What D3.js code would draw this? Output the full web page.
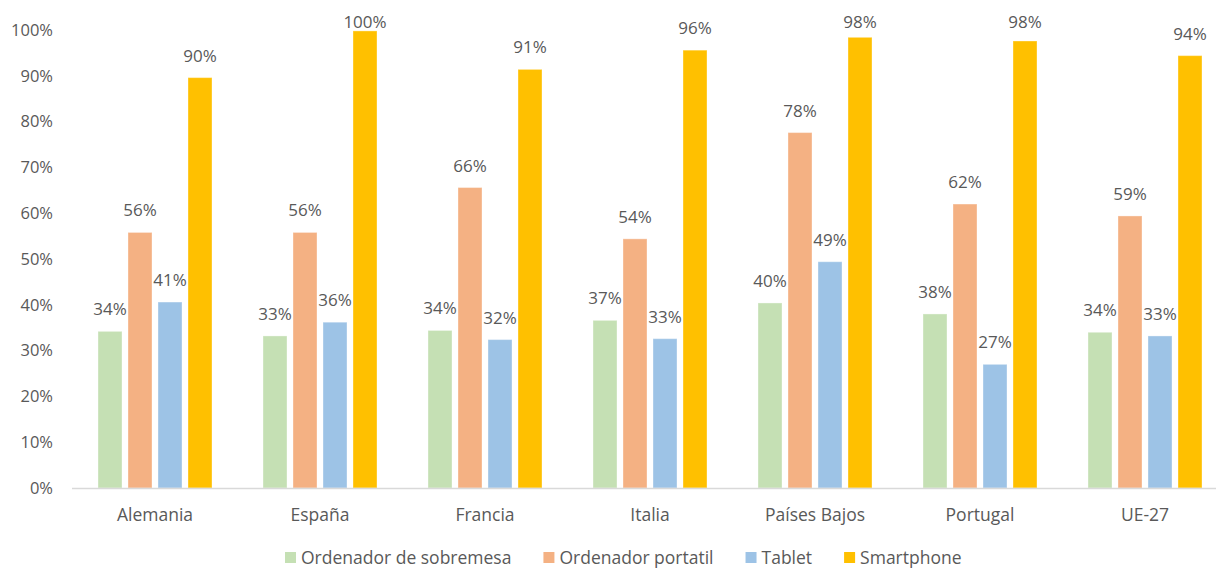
<!DOCTYPE html>
<html><head><meta charset="utf-8">
<script src="https://cdn.jsdelivr.net/npm/d3@7"></script>
<style>body{margin:0;background:#fff}svg{display:block}text{font-family:"Open Sans",sans-serif;fill:#595959}</style>
</head><body><svg id="c" width="1216" height="569"></svg>
<script>
const categories=["Alemania","España","Francia","Italia","Países Bajos","Portugal","UE-27"];
const series=["Ordenador de sobremesa","Ordenador portatil","Tablet","Smartphone"];
const sobremesa=[34.2,33.2,34.4,36.6,40.4,38.0,34.0];
const portatil=[55.8,55.8,65.6,54.4,77.6,62.0,59.4];
const tablet=[40.6,36.2,32.4,32.6,49.4,27.0,33.2];
const smartphone=[89.6,99.8,91.4,95.6,98.4,97.6,94.4];
const yTicks=[0,10,20,30,40,50,60,70,80,90,100];
const colors=["#c5e0b4","#f4b183","#9dc3e6","#ffc000"];
const data=[sobremesa,portatil,tablet,smartphone];

const svg=d3.select("#c");
const x=d3.scaleBand().domain(categories).range([72.5,1227.5]);
const xi=d3.scaleBand().domain(series).range([-57,63]);
const barW=24;
const y=d3.scaleLinear().domain([0,100]).range([488,30]);
const cx=c=>x(c)+x.bandwidth()/2;

// y labels
svg.append("g").selectAll("text").data(yTicks).join("text")
 .attr("x",53).attr("y",d=>y(d)).attr("dy","0.35em").attr("text-anchor","end")
 .attr("font-size",16.5).text(d=>d+"%");

// bars
series.forEach((s,si)=>{
 const g=svg.append("g");
 g.selectAll("rect").data(categories).join("rect")
  .attr("x",c=>cx(c)+xi(s))
  .attr("y",(c,i)=>y(data[si][i]))
  .attr("width",barW)
  .attr("height",(c,i)=>y(0)-y(data[si][i]))
  .attr("fill",colors[si])
  .attr("stroke","#ffffff").attr("stroke-opacity",0.35).attr("stroke-width",1);
 g.selectAll("text").data(categories).join("text")
  .attr("x",c=>cx(c)+xi(s)+barW/2)
  .attr("y",(c,i)=>Math.max(y(data[si][i])-16,28))
  .attr("text-anchor","middle").attr("font-size",17)
  .text((c,i)=>Math.round(data[si][i])+"%");
});

// axis line
svg.append("line").attr("x1",72).attr("x2",1216).attr("y1",488.5).attr("y2",488.5)
 .attr("stroke","#d9d9d9").attr("stroke-width",1.5);

// category labels
svg.append("g").selectAll("text").data(categories).join("text")
 .attr("x",cx).attr("y",521).attr("text-anchor","middle")
 .attr("font-size",17.5).text(c=>c);

// legend
const lg=svg.append("g");
let lx=285;
series.forEach((s,i)=>{
 lg.append("rect").attr("x",lx).attr("y",552).attr("width",11).attr("height",11).attr("fill",colors[i]);
 const t=lg.append("text").attr("x",lx+16).attr("y",564).attr("font-size",17.5).text(s);
 lx+=16+t.node().getComputedTextLength()+32;
});
</script></body></html>
